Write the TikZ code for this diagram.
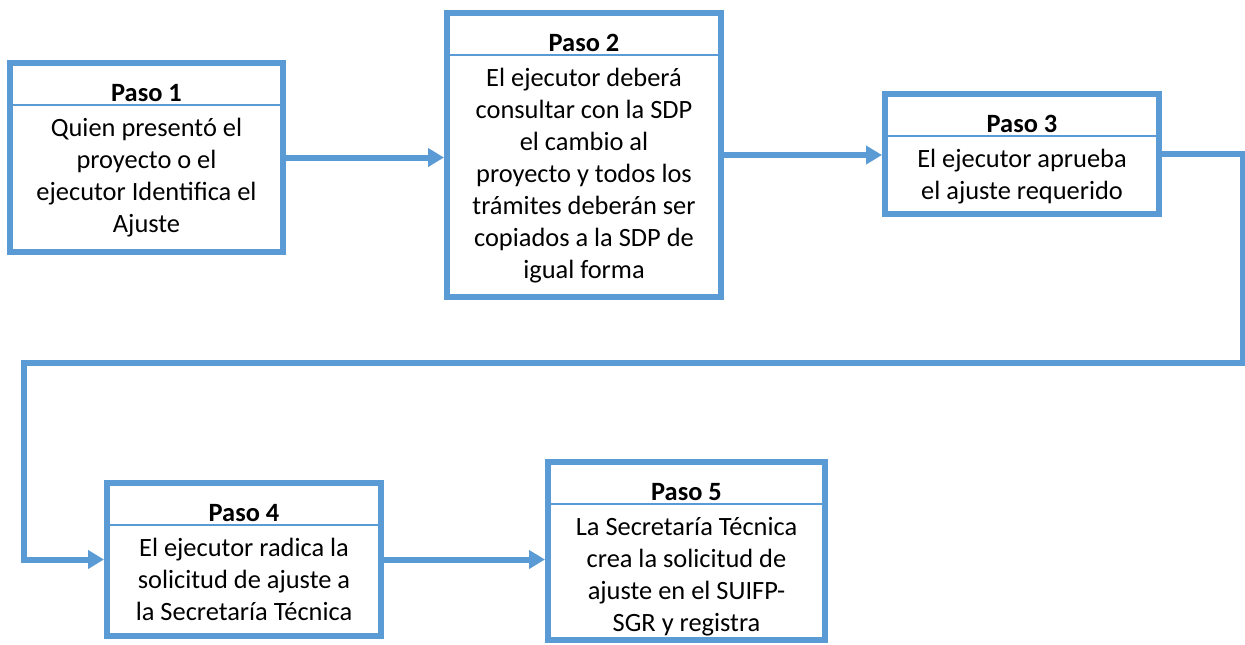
\documentclass[tikz,border=0pt]{standalone}
\usepackage{fontspec}
\setmainfont{Carlito}
\usepackage{tikz}
\usetikzlibrary{positioning,calc,arrows.meta}
\definecolor{azul}{HTML}{5B9BD5}
\tikzset{>={Triangle[length=8pt,width=9pt]}}
\tikzset{
  paso/.style={draw=azul,line width=3pt,fill=white,inner sep=0pt},
  cab/.style={font=\fontsize{13.2}{16}\selectfont\bfseries,inner sep=0pt,anchor=base},
  texto/.style={font=\fontsize{13.2}{16}\selectfont,align=center,inner sep=0pt,anchor=north},
  raya/.style={draw=azul,line width=0.75pt},
  flecha/.style={draw=azul,line width=3pt,->}
}
% header, divider and text of one box
\newcommand*{\etapa}[3]{%
  \node[cab] (#1h) at ([yshift=-20.9pt]#1.north) {Paso #2};
  \draw[raya] ([yshift=-22.6pt]#1.north west) -- ([yshift=-22.6pt]#1.north east);
  \node[texto] (#1t) at ([yshift=-26.6pt]#1.north) {\strut #3};
}

\begin{document}
\begin{tikzpicture}[x=0.5pt,y=-0.5pt]
\useasboundingbox (0,0) rectangle (1245,644);
% Boxes
\node[paso,minimum width=136.5pt,minimum height=94.5pt] (p1) at (146.5,157.5) {};
\node[paso,minimum width=137pt,minimum height=142pt] (p2) at (584,155) {};
\node[paso,minimum width=137pt,minimum height=60pt] (p3) at (1022,154) {};
\node[paso,minimum width=137pt,minimum height=76.5pt] (p4) at (244,559.5) {};
\node[paso,minimum width=138.5pt,minimum height=89pt] (p5) at (686.5,551) {};
% Texts
\etapa{p1}{1}{Quien presentó el\\proyecto o el\\ejecutor Identifica el\\Ajuste}
\etapa{p2}{2}{El ejecutor deberá\\consultar con la SDP\\el cambio al\\proyecto y todos los\\trámites deberán ser\\copiados a la SDP de\\igual forma}
\etapa{p3}{3}{El ejecutor aprueba\\el ajuste requerido}
\etapa{p4}{4}{El ejecutor radica la\\solicitud de ajuste a\\la Secretaría Técnica}
\etapa{p5}{5}{La Secretaría Técnica\\crea la solicitud de\\ajuste en el SUIFP-\\SGR y registra}
% Arrows
\draw[flecha] (p1.east) -- (p1.east -| p2.west);
\draw[flecha] (p2.east) -- (p2.east -| p3.west);
\coordinate (d1) at (1243,363);
\coordinate (d2) at (24,363);
\draw[flecha] (p3.east) -| (d1) -- (d2) |- (p4.west);
\draw[flecha] (p4.east) -- (p4.east -| p5.west);
\end{tikzpicture}
\end{document}
